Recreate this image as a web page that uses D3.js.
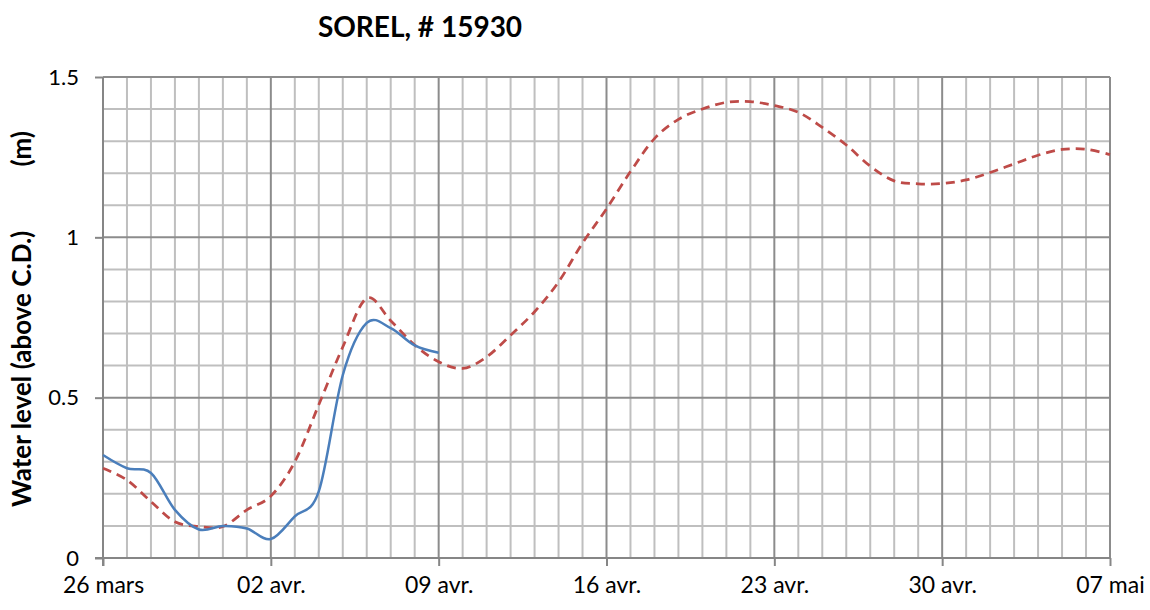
<!DOCTYPE html>
<html>
<head>
<meta charset="utf-8">
<script src="https://cdn.jsdelivr.net/npm/d3@7"></script>
<style>
  html, body { margin: 0; padding: 0; background: #fff; }
  svg text { font-family: Lato, "Open Sans", sans-serif; fill: #000; }
</style>
</head>
<body>
<svg id="chart" width="1150" height="610"></svg>
<script>
// ---- data (day index 0 = 26 mars) ----
const dayLabels = ["26 mars", "02 avr.", "09 avr.", "16 avr.", "23 avr.", "30 avr.", "07 mai"];
const yTickLabels = ["0", "0.5", "1", "1.5"];
const yTickValues = [0, 0.5, 1, 1.5];

const observedDays = [0,1,2,3,4,5,6,7,8,9,10,11,12,13,14];
const observedValues = [0.321, 0.28, 0.265, 0.15, 0.089, 0.10, 0.092, 0.059, 0.13, 0.208, 0.57, 0.733, 0.717, 0.663, 0.640];

const forecastDays = [0,1,2,3,4,5,6,7,8,9,10,11,12,13,14,15,16,17,18,19,20,21,22,23,24,25,26,27,28,29,30,31,32,33,34,35,36,37,38,39,40,41,42];
const forecastValues = [0.28, 0.243, 0.176, 0.113, 0.098, 0.098, 0.15, 0.193, 0.30, 0.478, 0.658, 0.81, 0.74, 0.664, 0.612,
  0.591, 0.627, 0.695, 0.768, 0.861, 0.982, 1.089, 1.205, 1.308, 1.368, 1.40, 1.421, 1.423, 1.411, 1.39, 1.343, 1.288, 1.222,
  1.176, 1.167, 1.168, 1.179, 1.202, 1.229, 1.256, 1.274, 1.275, 1.258];

const titleText = "SOREL, # 15930";
const yTitle = "Water level (above C.D.)";
const yUnit = "(m)";

// ---- layout ----
const svg = d3.select("#chart");
const pL = 103, pR = 1110, pT = 77, pB = 558;

const x = d3.scaleLinear().domain([0, 42]).range([pL, pR]);
const y = d3.scaleLinear().domain([0, 1.5]).range([pB, pT]);

const minorX = d3.range(1, 43);
const minorY = d3.range(1, 16).map(i => i / 10);

const grid = svg.append("g");
grid.selectAll("line.vx").data(minorX.filter(d => d % 7 !== 0)).join("line")
  .attr("x1", d => x(d)).attr("x2", d => x(d)).attr("y1", pT).attr("y2", pB)
  .attr("stroke", "#bfbfbf").attr("stroke-width", 2);
grid.selectAll("line.hy").data(minorY.filter(d => Math.round(d * 10) % 5 !== 0)).join("line")
  .attr("x1", pL).attr("x2", pR).attr("y1", d => y(d)).attr("y2", d => y(d))
  .attr("stroke", "#bfbfbf").attr("stroke-width", 2);
grid.selectAll("line.mx").data([7, 14, 21, 28, 35, 42]).join("line")
  .attr("x1", d => x(d)).attr("x2", d => x(d)).attr("y1", pT).attr("y2", pB)
  .attr("stroke", "#8c8c8c").attr("stroke-width", 2);
grid.selectAll("line.my").data([0.5, 1, 1.5]).join("line")
  .attr("x1", pL).attr("x2", pR).attr("y1", d => y(d)).attr("y2", d => y(d))
  .attr("stroke", "#8c8c8c").attr("stroke-width", 2);

// axes
const xAxis = d3.axisBottom(x).tickValues(d3.range(0, 43, 7))
  .tickFormat((d, i) => dayLabels[i]).tickSize(8).tickPadding(11);
const gx = svg.append("g").attr("transform", `translate(0,${pB})`).call(xAxis);
gx.select(".domain").attr("stroke", "#868686").attr("stroke-width", 2)
  .attr("d", `M${pL - 8},0H${pR}`);
gx.selectAll(".tick line").attr("stroke", "#868686").attr("stroke-width", 2);
gx.selectAll(".tick text").attr("font-size", 23).attr("font-family", "Lato").attr("fill", "#000");

const yAxis = d3.axisLeft(y).tickValues(yTickValues)
  .tickFormat((d, i) => yTickLabels[i]).tickSize(8).tickPadding(16);
const gy = svg.append("g").attr("transform", `translate(${pL},0)`).call(yAxis);
gy.select(".domain").attr("stroke", "#868686").attr("stroke-width", 2)
  .attr("d", `M0,${pT}V${pB + 8}`);
gy.selectAll(".tick line").attr("stroke", "#868686").attr("stroke-width", 2);
gy.selectAll(".tick text").attr("font-size", 22).attr("font-family", "Lato").attr("fill", "#000");

// lines
const lineGen = d3.line().x(d => x(d[0])).y(d => y(d[1])).curve(d3.curveCardinal.tension(0));

svg.append("path")
  .datum(forecastDays.map((d, i) => [d, forecastValues[i]]))
  .attr("d", lineGen).attr("fill", "none")
  .attr("stroke", "#be4b48").attr("stroke-width", 2.75)
  .attr("stroke-dasharray", "9,6");

svg.append("path")
  .datum(observedDays.map((d, i) => [d, observedValues[i]]))
  .attr("d", lineGen).attr("fill", "none")
  .attr("stroke", "#4a7ebb").attr("stroke-width", 2.5);

// title
svg.append("text").attr("x", 420).attr("y", 37).attr("text-anchor", "middle")
  .attr("font-size", 28).attr("font-weight", "bold").text(titleText);

// y title
svg.append("text").attr("transform", `translate(31,507) rotate(-90)`)
  .attr("text-anchor", "start").attr("font-size", 26).attr("font-weight", "bold").text(yTitle);
svg.append("text").attr("transform", `translate(31,131) rotate(-90)`)
  .attr("text-anchor", "end").attr("font-size", 26).attr("font-weight", "bold").text(yUnit);
</script>
</body>
</html>
